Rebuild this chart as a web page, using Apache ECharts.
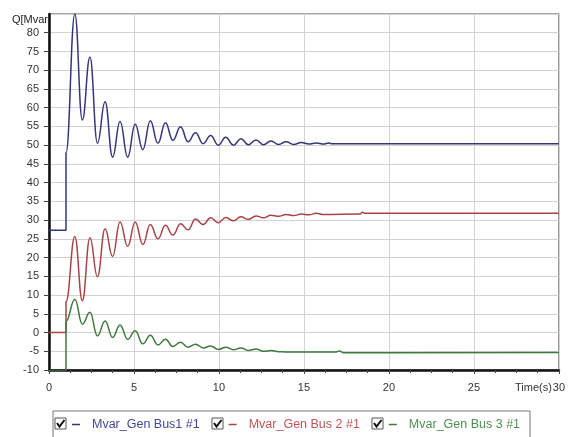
<!DOCTYPE html>
<html>
<head>
<meta charset="utf-8">
<script src="https://cdn.jsdelivr.net/npm/echarts@6/dist/echarts.min.js"></script>
<style>
  html, body { margin: 0; padding: 0; background: #fff; }
  #main { width: 568px; height: 437px; }
</style>
</head>
<body>
<div id="main"></div>
<script>
// Q (Mvar) of the three generators vs time (s) at peaks / troughs
const bus1T = [0, 1.0, 1.0, 1.52, 1.96, 2.41, 2.85, 3.30, 3.74, 4.18, 4.63, 5.07, 5.52, 5.96, 6.41, 6.85, 7.29, 7.74, 8.18, 8.62, 9.07, 9.51, 9.96, 10.40, 10.85, 11.29, 11.73, 12.18, 12.62, 13.06, 13.51, 13.95, 14.40, 14.84, 15.29, 15.73, 16.17, 16.45, 16.6, 30];
const bus1Q = [27.3, 27.3, 48, 85, 56.7, 73.5, 50.5, 61.6, 46.8, 56.3, 46.8, 55.6, 48.8, 56.5, 50.5, 56, 51.3, 54.9, 50.9, 53.3, 50.4, 52.6, 50.0, 52.1, 50.0, 51.7, 50.1, 51.4, 50.1, 51.1, 50.2, 50.9, 50.2, 50.7, 50.3, 50.6, 50.3, 50.6, 50.4, 50.4];

const bus2T = [0, 1.0, 1.0, 1.52, 1.96, 2.41, 2.85, 3.30, 3.74, 4.18, 4.63, 5.07, 5.52, 5.96, 6.41, 6.85, 7.29, 7.74, 8.18, 8.62, 9.07, 9.51, 9.96, 10.40, 10.85, 11.29, 11.73, 12.18, 12.62, 13.06, 13.51, 13.95, 14.40, 14.84, 15.29, 15.73, 16.17, 18.3, 18.45, 18.6, 30];
const bus2Q = [0, 0, 8.3, 25.6, 8.5, 25.3, 14.9, 27.7, 20.3, 29.5, 23.0, 29.5, 23.5, 28.8, 25.0, 28.6, 26.0, 29.0, 27.4, 30.3, 28.8, 30.6, 29.3, 30.7, 29.8, 30.9, 30.2, 31.1, 30.6, 31.3, 31.0, 31.5, 31.2, 31.6, 31.4, 31.8, 31.5, 31.6, 32.1, 31.8, 31.8];

const bus3T = [0, 1.0, 1.0, 1.52, 1.96, 2.41, 2.85, 3.30, 3.74, 4.18, 4.63, 5.07, 5.52, 5.96, 6.41, 6.85, 7.29, 7.74, 8.18, 8.62, 9.07, 9.51, 9.96, 10.40, 10.85, 11.29, 11.73, 12.18, 12.62, 13.06, 13.51, 14.0, 16.9, 17.1, 17.3, 30];
const bus3Q = [-10.2, -10.2, 3.0, 8.9, 2.2, 5.4, -0.9, 3.1, -1.3, 2.0, -1.8, 0.5, -3.0, -0.7, -3.3, -1.8, -3.7, -2.6, -3.9, -3.1, -4.1, -3.6, -4.5, -3.9, -4.6, -4.1, -4.8, -4.4, -5.0, -4.8, -5.1, -5.2, -5.2, -4.9, -5.4, -5.3];

const seriesNames = ['Mvar_Gen Bus1 #1', 'Mvar_Gen Bus 2 #1', 'Mvar_Gen Bus 3 #1'];
const lineColors = ['#35357a', '#a84444', '#3d7a3d'];
const legendColors = ['#45459a', '#c05555', '#4d8f4d'];

const zip = (t, q) => t.map((x, i) => [x, q[i]]);
const seriesData = [zip(bus1T, bus1Q), zip(bus2T, bus2Q), zip(bus3T, bus3Q)];

// checkbox in front of each legend entry (x of the box)
const boxX = [55, 212, 372];
function checkbox(x) {
  const y = 418;
  return {
    type: 'group',
    children: [
      { type: 'rect', shape: { x: x, y: y, width: 11, height: 11 },
        style: { fill: '#fff', stroke: '#555', lineWidth: 1 } },
      { type: 'polyline', shape: { points: [[x + 2, y + 5], [x + 4.5, y + 8.5], [x + 9.5, y + 2]] },
        style: { fill: null, stroke: '#111', lineWidth: 2 } }
    ]
  };
}

const chart = echarts.init(document.getElementById('main'));
chart.setOption({
  backgroundColor: '#fff',
  animation: false,
  grid: {
    left: 49, right: 6, top: 14, bottom: 67,
    show: true, borderColor: '#8a8a8a', borderWidth: 1.5, backgroundColor: '#fff'
  },
  xAxis: {
    type: 'value', min: 0, max: 30, interval: 5,
    name: 'Time(s)', nameLocation: 'end', nameGap: -7, nameMoveOverlap: false,
    nameTextStyle: { align: 'right', verticalAlign: 'top', padding: [12, 0, 0, 0],
      fontFamily: 'Liberation Sans', fontSize: 11, color: '#333' },
    axisLine: { onZero: false, lineStyle: { color: '#111', width: 2.5 } },
    axisTick: { length: 4, lineStyle: { color: '#444' } },
    minorTick: { show: true, splitNumber: 4, length: 3, lineStyle: { color: '#444' } },
    axisLabel: { margin: 12, fontFamily: 'Liberation Sans', fontSize: 11, color: '#333' },
    splitLine: { lineStyle: { color: '#d2d2d2', width: 1 } }
  },
  yAxis: {
    type: 'value', min: -10, max: 85, interval: 5,
    name: 'Q[Mvar', nameLocation: 'end', nameGap: -6, nameMoveOverlap: false,
    nameTextStyle: { align: 'right', verticalAlign: 'middle', padding: [0, 1, 0, 0],
      fontFamily: 'Liberation Sans', fontSize: 11, color: '#222' },
    axisLine: { onZero: false, lineStyle: { color: '#111', width: 2.5 } },
    axisTick: { length: 5, lineStyle: { color: '#444' } },
    axisLabel: { margin: 10, showMaxLabel: false, fontFamily: 'Liberation Sans', fontSize: 11, color: '#333' },
    splitLine: { lineStyle: { color: '#d2d2d2', width: 1 } }
  },
  legend: {
    left: 53, top: 411,
    padding: [7, 10, 10, 19],
    itemGap: 29,
    itemWidth: 8, itemHeight: 1.5,
    icon: 'rect',
    borderColor: '#777', borderWidth: 1,
    selectedMode: false,
    textStyle: { fontFamily: 'Liberation Sans', fontSize: 12.5, padding: [0, 0, 0, 7] },
    data: seriesNames.map((n, i) => ({ name: n, textStyle: { color: legendColors[i] } }))
  },
  graphic: boxX.map(checkbox),
  series: seriesNames.map((n, i) => ({
    name: n,
    type: 'line',
    data: seriesData[i],
    smooth: 0.45,
    smoothMonotone: 'x',
    showSymbol: false,
    color: lineColors[i],
    lineStyle: { color: lineColors[i], width: 1.5 }
  }))
});
</script>
</body>
</html>
